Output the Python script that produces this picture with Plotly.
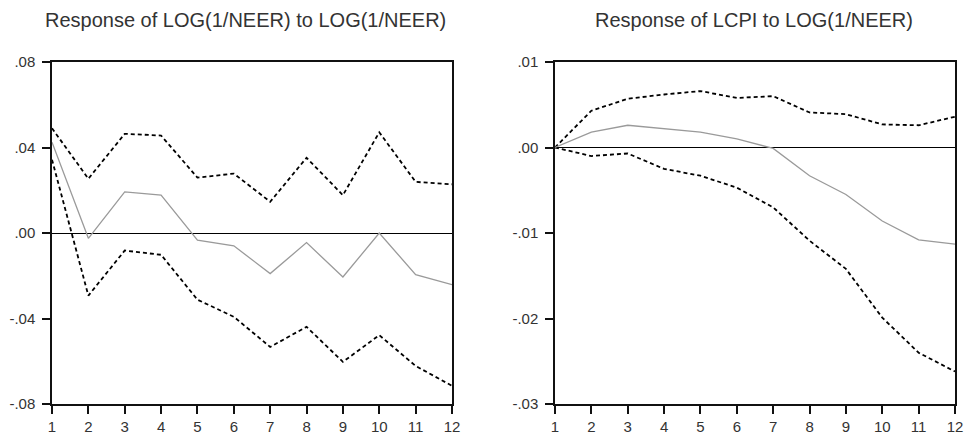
import plotly.graph_objects as go

# Impulse-response horizons
periods = list(range(1, 13))

# Response of LOG(1/NEER) to LOG(1/NEER)
neer_resp = [0.0425, -0.0025, 0.0192, 0.0177, -0.0033, -0.0060, -0.0190, -0.0045, -0.0206, 0.0000, -0.0195, -0.0242]
neer_upper = [0.0490, 0.0254, 0.0464, 0.0456, 0.0259, 0.0278, 0.0146, 0.0352, 0.0177, 0.0471, 0.0239, 0.0228]
neer_lower = [0.0343, -0.0293, -0.0082, -0.0102, -0.0312, -0.0392, -0.0533, -0.0439, -0.0603, -0.0478, -0.0622, -0.0715]

# Response of LCPI to LOG(1/NEER)
cpi_resp = [0.0000, 0.0018, 0.0026, 0.0022, 0.0018, 0.0010, -0.0001, -0.0033, -0.0055, -0.0086, -0.0108, -0.0113]
cpi_upper = [0.0000, 0.0043, 0.0057, 0.0062, 0.0066, 0.0058, 0.0060, 0.0041, 0.0039, 0.0027, 0.0026, 0.0036]
cpi_lower = [0.0000, -0.0010, -0.0007, -0.0025, -0.0033, -0.0047, -0.0070, -0.0109, -0.0142, -0.0199, -0.0240, -0.0262]

titles = ["Response of LOG(1/NEER) to LOG(1/NEER)", "Response of LCPI to LOG(1/NEER)"]

neer_ticks = [0.08, 0.04, 0.0, -0.04, -0.08]
neer_ticktext = [".08", ".04", ".00", "-.04", "-.08"]
cpi_ticks = [0.01, 0.0, -0.01, -0.02, -0.03]
cpi_ticktext = [".01", ".00", "-.01", "-.02", "-.03"]

W, H = 965, 439
FONT = "Liberation Sans, Arial, sans-serif"
TXT = "#333333"

fig = go.Figure()

panels = [
    ("x", "y", neer_resp, neer_upper, neer_lower),
    ("x2", "y2", cpi_resp, cpi_upper, cpi_lower),
]
for xa, ya, resp, up, lo in panels:
    for band in (up, lo):
        fig.add_trace(go.Scatter(
            x=periods, y=band, xaxis=xa, yaxis=ya, mode="lines",
            line=dict(color="black", width=1.8, dash="4px,3px"),
            showlegend=False, hoverinfo="skip"))
    fig.add_trace(go.Scatter(
        x=periods, y=resp, xaxis=xa, yaxis=ya, mode="lines",
        line=dict(color="#9a9a9a", width=1.3),
        showlegend=False, hoverinfo="skip"))

ydom = [1 - 404 / H, 1 - 62 / H]
axis_common = dict(
    showline=True, linecolor="#111111", linewidth=1.5, mirror=True,
    ticks="outside", ticklen=8, tickcolor="#111111", tickwidth=1.5,
    showgrid=False, automargin=False,
    tickfont=dict(family=FONT, size=15, color=TXT),
)

fig.update_layout(
    width=W, height=H,
    margin=dict(l=0, r=0, t=0, b=0, pad=0, autoexpand=False),
    paper_bgcolor="white", plot_bgcolor="white",
    xaxis=dict(domain=[52 / W, 452 / W], range=[1, 12], tickvals=periods,
               anchor="y", zeroline=False, ticklabelstandoff=0, **axis_common),
    yaxis=dict(domain=ydom, range=[-0.08, 0.08], tickvals=neer_ticks,
               ticktext=neer_ticktext, anchor="x", zeroline=True,
               zerolinecolor="black", zerolinewidth=1, ticklabelstandoff=4,
               **axis_common),
    xaxis2=dict(domain=[555 / W, 955 / W], range=[1, 12], tickvals=periods,
                anchor="y2", zeroline=False, ticklabelstandoff=0, **axis_common),
    yaxis2=dict(domain=ydom, range=[-0.03, 0.01], tickvals=cpi_ticks,
                ticktext=cpi_ticktext, anchor="x2", zeroline=True,
                zerolinecolor="black", zerolinewidth=1, ticklabelstandoff=4,
                **axis_common),
)

for title, cx in zip(titles, [245 / W, 754 / W]):
    fig.add_annotation(
        text=title, x=cx, y=1 - 20 / H, xref="paper", yref="paper",
        xanchor="center", yanchor="middle", showarrow=False,
        font=dict(family=FONT, size=20, color=TXT))

fig.write_html("out.html")
